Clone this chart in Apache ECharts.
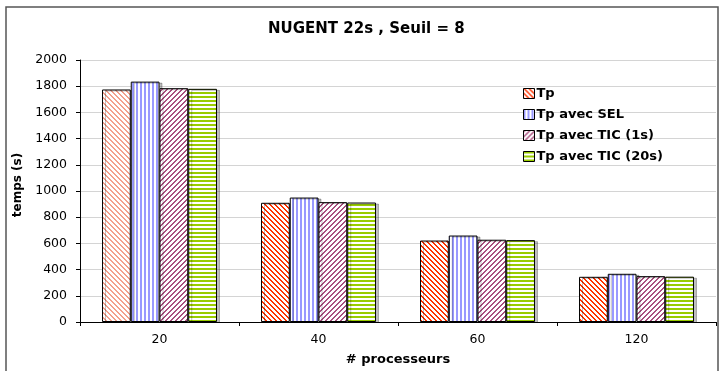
<!DOCTYPE html>
<html>
<head>
<meta charset="utf-8">
<script src="https://cdn.jsdelivr.net/npm/echarts@6/dist/echarts.min.js"></script>
<style>
  html, body { margin: 0; padding: 0; background: #fff; }
  #chart { width: 720px; height: 371px; }
</style>
</head>
<body>
<div id="chart"></div>
<script>
// Execution times (s) per processor count
const categories = ['20', '40', '60', '120'];
const seriesNames = ['Tp', 'Tp avec SEL', 'Tp avec TIC (1s)', 'Tp avec TIC (20s)'];
const tp       = [1775, 910, 622, 345];
const tpSel    = [1835, 950, 660, 368];
const tpTic1   = [1785, 915, 628, 350];
const tpTic20  = [1780, 912, 625, 346];
const yTicks   = [0, 200, 400, 600, 800, 1000, 1200, 1400, 1600, 1800, 2000];

const FONT = 'DejaVu Sans';

// Pixel-crisp hatch tile used as a repeating fill
function hatch(kind, color, size, w) {
  const c = document.createElement('canvas');
  c.width = size; c.height = size;
  const g = c.getContext('2d');
  g.fillStyle = '#fff';
  g.fillRect(0, 0, size, size);
  g.fillStyle = color;
  for (let y = 0; y < size; y++) {
    for (let x = 0; x < size; x++) {
      let k;
      if (kind === 'v') k = x;
      else if (kind === 'h') k = y;
      else if (kind === 'back') k = ((x - y) % size + size) % size;
      else k = (x + y) % size;
      if (k < w) g.fillRect(x, y, 1, 1);
    }
  }
  return { image: c, repeat: 'repeat' };
}

const fills = [
  hatch('back', '#ff3300', 5, 2),
  hatch('v', '#9999ff', 4, 2),
  hatch('fwd', '#aa5080', 5, 2),
  hatch('h', '#99cc00', 4, 2)
];
const lightTp = hatch('back', '#f4a08c', 5, 2);

const values = [tp, tpSel, tpTic1, tpTic20];

const chart = echarts.init(document.getElementById('chart'), null, { renderer: 'canvas' });

const series = values.map((vals, i) => ({
  name: seriesNames[i],
  type: 'bar',
  barGap: '0%',
  barCategoryGap: '27.7%',
  data: vals.map((v, j) => (i === 0 && j === 0) ? { value: v, itemStyle: { color: lightTp } } : v),
  itemStyle: {
    color: fills[i],
    borderColor: '#000',
    borderWidth: 1,
    shadowColor: 'rgba(0,0,0,0.25)',
    shadowOffsetX: 3,
    shadowOffsetY: 1,
    shadowBlur: 0
  },
  emphasis: { disabled: true },
  animation: false
}));

chart.setOption({
  animation: false,
  backgroundColor: '#fff',
  title: {
    text: 'NUGENT 22s , Seuil = 8',
    left: 263,
    top: 17,
    textStyle: { fontFamily: FONT, fontSize: 15, fontWeight: 'bold', color: '#000' }
  },
  graphic: [{
    type: 'rect',
    shape: { x: 6, y: 7, width: 712, height: 380 },
    style: { fill: 'none', stroke: '#555', lineWidth: 1.5 },
    silent: true,
    z: 0
  }],
  legend: {
    orient: 'vertical',
    left: 518,
    top: 82,
    itemWidth: 11,
    itemHeight: 10,
    itemGap: 8,
    icon: 'rect',
    data: seriesNames,
    itemStyle: { borderColor: '#000', borderWidth: 1, shadowColor: 'transparent', shadowOffsetX: 0, shadowOffsetY: 0 },
    textStyle: { fontFamily: FONT, fontSize: 13, fontWeight: 'bold', color: '#000', padding: [0, 0, 0, -3] }
  },
  grid: { left: 80, right: 4, top: 60, bottom: 45, containLabel: false },
  xAxis: {
    type: 'category',
    data: categories,
    name: '# processeurs',
    nameLocation: 'middle',
    nameGap: 31,
    nameTextStyle: { fontFamily: FONT, fontSize: 13, fontWeight: 'bold', color: '#000' },
    axisLine: { lineStyle: { color: '#000', width: 1 } },
    axisTick: { show: true, alignWithLabel: false, length: 4, lineStyle: { color: '#000' } },
    axisLabel: { fontFamily: FONT, fontSize: 12.5, color: '#000', margin: 11 },
    splitLine: { show: false }
  },
  yAxis: {
    type: 'value',
    min: yTicks[0],
    max: yTicks[yTicks.length - 1],
    interval: yTicks[1] - yTicks[0],
    name: 'temps (s)',
    nameLocation: 'middle',
    nameGap: 52,
    nameTextStyle: { fontFamily: FONT, fontSize: 12, fontWeight: 'bold', color: '#000', padding: [0, 0, 0, 12] },
    axisLine: { show: true, lineStyle: { color: '#000', width: 1 } },
    axisTick: { show: true, length: 4, lineStyle: { color: '#000' } },
    axisLabel: { fontFamily: FONT, fontSize: 12.5, color: '#000', margin: 13, formatter: v => String(v) },
    splitLine: { show: true, lineStyle: { color: '#d4d4d4', width: 1 } }
  },
  series: series
});
</script>
</body>
</html>
